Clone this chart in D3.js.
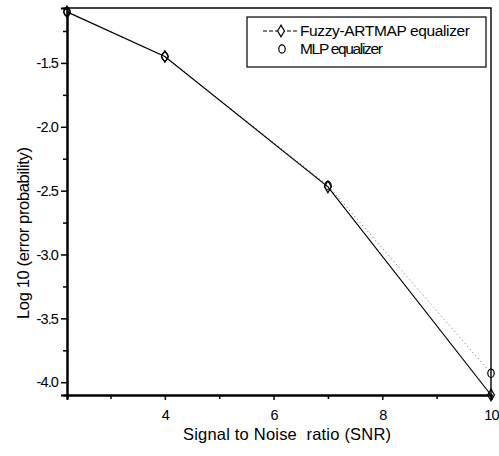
<!DOCTYPE html>
<html>
<head>
<meta charset="utf-8">
<script src="https://cdn.jsdelivr.net/npm/d3@7"></script>
<style>
  body { margin: 0; background: #fff; }
  svg { display: block; font-family: "Liberation Sans", Arial, sans-serif; }
</style>
</head>
<body>
<svg id="chart" width="499" height="456"></svg>
<script>
// ─── Data ────────────────────────────────────────────────────────────────────
const snr        = [2.2, 4, 7, 10];
const fuzzyLog   = [-1.1, -1.45, -2.47, -4.1];
const mlpLog     = [-1.1, -1.45, -2.46, -3.93];
const xTicks     = [4, 6, 8, 10];
const xMinor     = [3, 5, 7, 9];
const yTicks     = [-1.5, -2.0, -2.5, -3.0, -3.5, -4.0];
const yMinor     = [-1.25, -1.75, -2.25, -2.75, -3.25, -3.75];
const legendLabels = ['Fuzzy-ARTMAP equalizer', 'MLP equalizer'];

// ─── Setup ───────────────────────────────────────────────────────────────────
const svg = d3.select('#chart');
const M = { left: 67, right: 491, top: 8, bottom: 395 };

const x = d3.scaleLinear().domain([2.2, 10]).range([M.left, M.right]);
const y = d3.scaleLinear().domain([-4.1, -1.07]).range([M.bottom, M.top]);

// frame (top + right)
svg.append('path')
  .attr('d', `M${M.left},${M.top}H${M.right}V${M.bottom}`)
  .attr('fill', 'none').attr('stroke', '#000').attr('stroke-width', 1.4);

// ─── Axes ────────────────────────────────────────────────────────────────────
svg.append('g').attr('transform', `translate(0,${M.bottom})`)
  .call(d3.axisBottom(x).tickValues(xTicks).tickSize(5).tickPadding(10).tickFormat(d => String(d)));
svg.append('g').attr('transform', `translate(0,${M.bottom})`)
  .call(d3.axisBottom(x).tickValues(xMinor).tickSize(4).tickFormat(''));

svg.append('g').attr('transform', `translate(${M.left},0)`)
  .call(d3.axisLeft(y).tickValues(yTicks).tickSize(6).tickPadding(3).tickFormat(d => d.toFixed(1)));
svg.append('g').attr('transform', `translate(${M.left},0)`)
  .call(d3.axisLeft(y).tickValues(yMinor).tickSize(4).tickFormat(''));

svg.selectAll('.domain').attr('stroke-width', 2);
svg.selectAll('.tick line').attr('stroke-width', 1.5);
svg.selectAll('.tick text')
  .attr('font-size', 14.5).attr('fill', '#000').attr('letter-spacing', -0.9)
  .attr('font-family', '"Liberation Sans", Arial, sans-serif');

// axis titles
svg.append('text')
  .attr('x', 183).attr('y', 440)
  .style('white-space', 'pre')
  .attr('font-size', 16.5).attr('textLength', 208).attr('lengthAdjust', 'spacing')
  .text('Signal to Noise  ratio (SNR)');

svg.append('text')
  .attr('transform', 'translate(29,319) rotate(-90)')
  .attr('font-size', 16.5).attr('textLength', 172).attr('lengthAdjust', 'spacing')
  .text('Log 10 (error probability)');

// ─── Series ──────────────────────────────────────────────────────────────────
const fuzzy = snr.map((s, i) => [s, fuzzyLog[i]]);
const mlp   = snr.map((s, i) => [s, mlpLog[i]]);
const line  = d3.line().x(d => x(d[0])).y(d => y(d[1]));

svg.append('path').datum(mlp)
  .attr('d', line).attr('fill', 'none')
  .attr('stroke', '#666').attr('stroke-width', 1).attr('stroke-dasharray', '1,3');

svg.append('path').datum(fuzzy)
  .attr('d', line).attr('fill', 'none')
  .attr('stroke', '#000').attr('stroke-width', 1.2);

const diamond = d3.symbol().type(d3.symbolDiamond).size(40);

svg.selectAll('.fz').data(fuzzy).join('path')
  .attr('transform', d => `translate(${x(d[0])},${y(d[1])})`)
  .attr('d', diamond).attr('fill', 'none').attr('stroke', '#000').attr('stroke-width', 1.2);

svg.selectAll('.mlp').data(mlp).join('ellipse')
  .attr('cx', d => x(d[0])).attr('cy', d => y(d[1]))
  .attr('rx', 3.2).attr('ry', 4.2)
  .attr('fill', 'none').attr('stroke', '#000').attr('stroke-width', 1.2);

// ─── Legend ──────────────────────────────────────────────────────────────────
const lg = svg.append('g');
lg.append('rect')
  .attr('x', 247).attr('y', 17).attr('width', 239).attr('height', 50)
  .attr('fill', '#fff').attr('stroke', '#000').attr('stroke-width', 1.2);

lg.append('line')
  .attr('x1', 263).attr('x2', 299).attr('y1', 31).attr('y2', 31)
  .attr('stroke', '#000').attr('stroke-width', 1).attr('stroke-dasharray', '4,2');
lg.append('path')
  .attr('transform', 'translate(281,31)')
  .attr('d', diamond).attr('fill', '#fff').attr('stroke', '#000').attr('stroke-width', 1.2);
lg.append('ellipse')
  .attr('cx', 282).attr('cy', 49).attr('rx', 3.2).attr('ry', 4.2)
  .attr('fill', 'none').attr('stroke', '#000').attr('stroke-width', 1.2);

const legendLen = [170, 83];
lg.selectAll('.lt').data(legendLabels).join('text')
  .attr('x', 300).attr('y', (d, i) => 36 + i * 18)
  .attr('font-size', 15.5)
  .attr('textLength', (d, i) => legendLen[i]).attr('lengthAdjust', 'spacing')
  .text(d => d);
</script>
</body>
</html>
